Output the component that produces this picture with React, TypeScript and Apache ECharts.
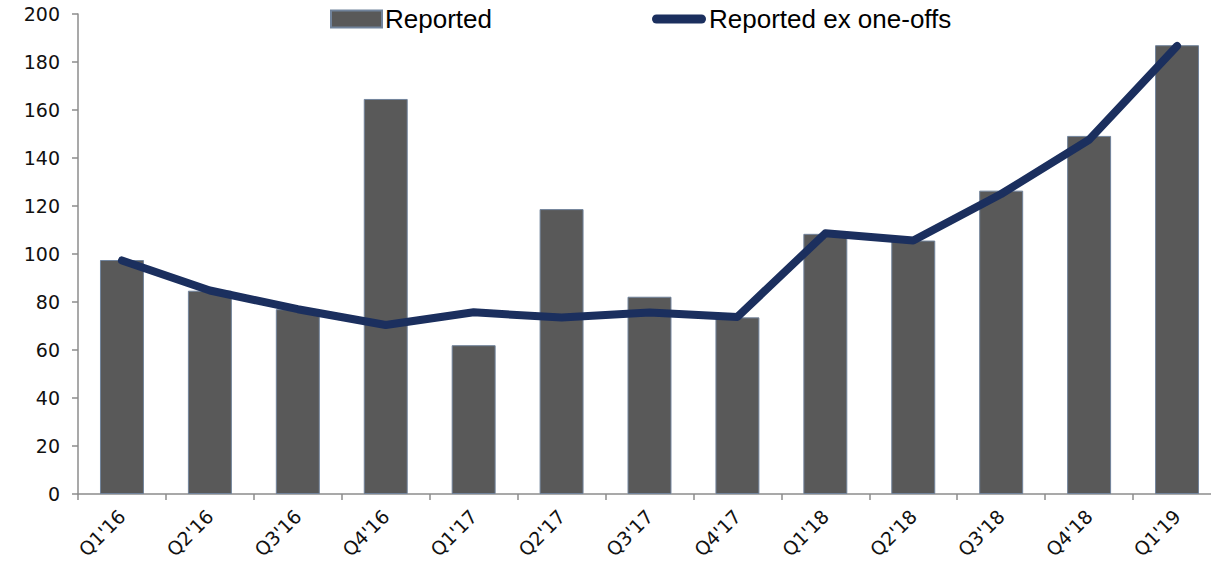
import React, { useEffect, useRef } from "react";
import * as echarts from "echarts";

const categories = ["Q1'16", "Q2'16", "Q3'16", "Q4'16", "Q1'17", "Q2'17", "Q3'17", "Q4'17", "Q1'18", "Q2'18", "Q3'18", "Q4'18", "Q1'19"];
const reported = [97.5, 84.7, 77, 164.6, 62, 118.7, 82.2, 73.6, 108.4, 105.6, 126.4, 149.2, 187];
const reportedExOneOffs = [97.3, 84.8, 77, 70.4, 75.7, 73.5, 75.6, 73.8, 108.6, 105.6, 125, 147.6, 186.7];
const yTicks = { min: 0, max: 200, interval: 20 };

export default function App() {
  const ref = useRef<HTMLDivElement>(null);
  useEffect(() => {
    if (!ref.current) return;
    const chart = echarts.init(ref.current, undefined, { renderer: "svg" });
    const axisColor = "#8c8c8c";
    const labelFont = { fontFamily: "DejaVu Sans", fontSize: 19, color: "#111" };
    chart.setOption({
      animation: false,
      backgroundColor: "#fff",
      grid: { left: 78, top: 14, width: 1143, bottom: 69, containLabel: false, outerBoundsMode: "none" },
      legend: [
        {
          left: 330,
          top: 6,
          padding: 0,
          itemWidth: 51,
          itemHeight: 17,
          data: [{ name: "Reported", icon: "rect" }],
          textStyle: { fontFamily: "Liberation Sans", fontSize: 26, color: "#000", padding: [0, 0, 0, -2] },
        },
        {
          left: 652,
          top: 6,
          padding: 0,
          itemWidth: 54,
          itemHeight: 9,
          data: [
            {
              name: "Reported ex one-offs",
              icon: "path://M4.5,0 L49.5,0 A4.5,4.5 0 0 1 49.5,9 L4.5,9 A4.5,4.5 0 0 1 4.5,0 Z",
            },
          ],
          textStyle: { fontFamily: "Liberation Sans", fontSize: 26, color: "#000", padding: [0, 0, 0, -2] },
        },
      ],
      xAxis: {
        type: "category",
        data: categories,
        boundaryGap: true,
        axisLine: { lineStyle: { color: axisColor, width: 1.5 } },
        axisTick: { show: true, length: 6, lineStyle: { color: axisColor, width: 1.5 } },
        axisLabel: { ...labelFont, rotate: 45, margin: 19, interval: 0 },
        splitLine: { show: false },
      },
      yAxis: {
        type: "value",
        min: yTicks.min,
        max: yTicks.max,
        interval: yTicks.interval,
        axisLine: { show: true, lineStyle: { color: axisColor, width: 1.5 } },
        axisTick: { show: true, length: 6, lineStyle: { color: axisColor, width: 1.5 } },
        axisLabel: { ...labelFont, margin: 18 },
        splitLine: { show: false },
      },
      series: [
        {
          name: "Reported",
          type: "bar",
          data: reported,
          barWidth: "50%",
          itemStyle: { color: "#595959", borderColor: "#71839b", borderWidth: 1 },
        },
        {
          name: "Reported ex one-offs",
          type: "line",
          data: reportedExOneOffs,
          symbol: "none",
          lineStyle: { color: "#1b2f5e", width: 8, cap: "round", join: "round" },
          itemStyle: { color: "#1b2f5e" },
        },
      ],
    });
    return () => chart.dispose();
  }, []);
  return <div ref={ref} style={{ position: "absolute", left: 0, top: 0, width: 1211, height: 563 }} />;
}
